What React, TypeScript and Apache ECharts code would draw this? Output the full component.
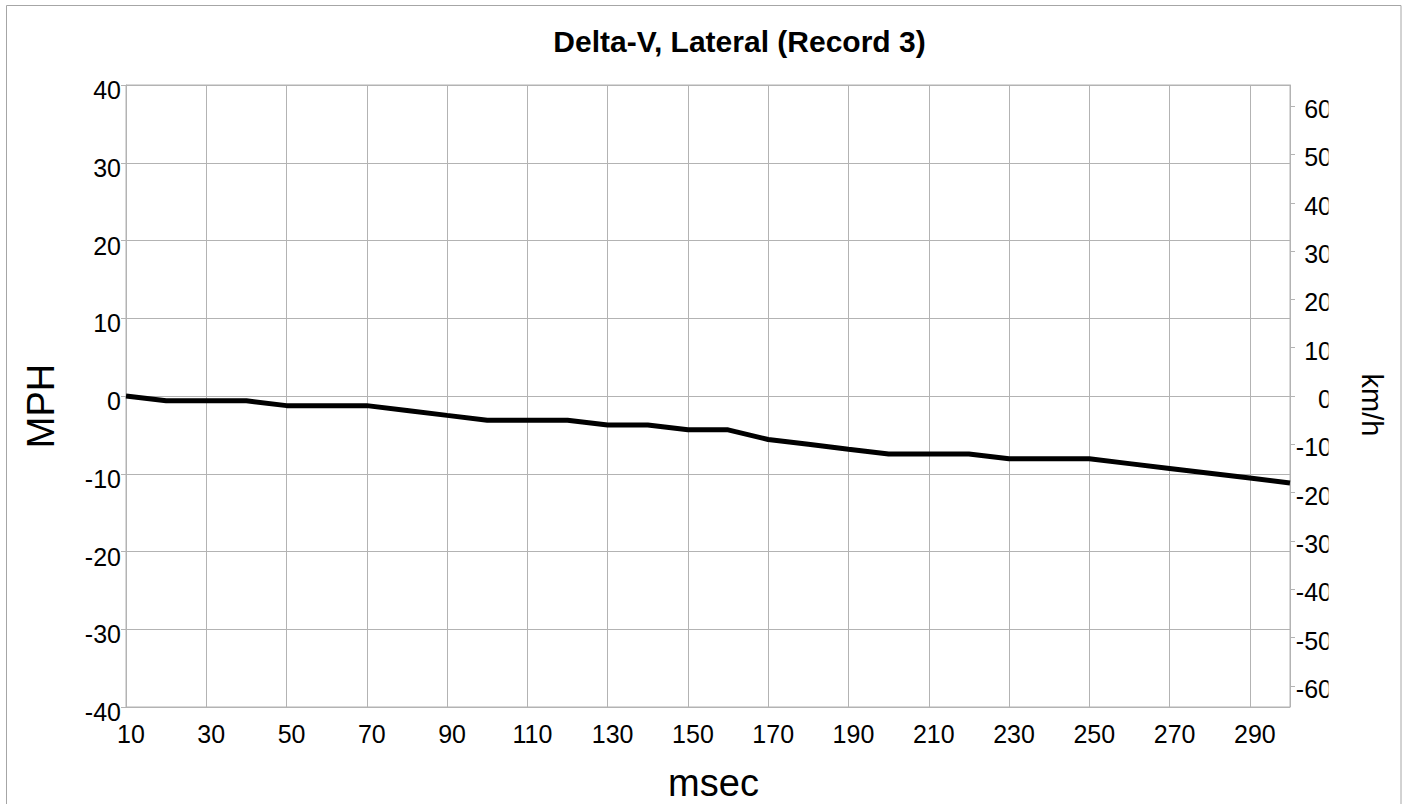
import React, { useEffect, useRef } from "react";
import * as echarts from "echarts";

const titleText = "Delta-V, Lateral (Record 3)";
const xName = "msec";
const leftName = "MPH";
const rightName = "km/h";

const msec = [10, 20, 30, 40, 50, 60, 70, 80, 90, 100, 110, 120, 130, 140, 150, 160, 170, 180, 190, 200, 210, 220, 230, 240, 250, 260, 270, 280, 290, 300];
const mph = [0, -0.62, -0.62, -0.62, -1.24, -1.24, -1.24, -1.86, -2.49, -3.11, -3.11, -3.11, -3.73, -3.73, -4.35, -4.35, -5.59, -6.21, -6.84, -7.46, -7.46, -7.46, -8.08, -8.08, -8.08, -8.7, -9.32, -9.94, -10.56, -11.18];

const xTicks = [10, 30, 50, 70, 90, 110, 130, 150, 170, 190, 210, 230, 250, 270, 290];
const mphTicks = [-40, -30, -20, -10, 0, 10, 20, 30, 40];
const kmhTicks = [-60, -50, -40, -30, -20, -10, 0, 10, 20, 30, 40, 50, 60];
const KMH_PER_MPH = 1.609344;

const FONT = '"Liberation Sans", Arial, sans-serif';
const GRID = "#b3b3b3";

export default function App() {
  const ref = useRef<HTMLDivElement>(null);
  useEffect(() => {
    if (!ref.current) return;
    const chart = echarts.init(ref.current, null, { renderer: "svg" });
    const mphMin = mphTicks[0];
    const mphMax = mphTicks[mphTicks.length - 1];
    const option = {
      animation: false,
      backgroundColor: "#ffffff",
      grid: {
        left: 126,
        right: 120,
        top: 85,
        bottom: 97,
        show: true,
        borderColor: GRID,
        borderWidth: 1,
        containLabel: false,
      },
      xAxis: {
        type: "value",
        min: msec[0],
        max: msec[msec.length - 1],
        interval: 20,
        axisLine: { show: true, lineStyle: { color: GRID, width: 1 } },
        axisTick: { show: true, length: 6, lineStyle: { color: GRID }, customValues: xTicks },
        axisLabel: {
          color: "#000",
          fontFamily: FONT,
          fontSize: 25,
          margin: 14,
          padding: [0, 0, 0, 10],
          customValues: xTicks,
        },
        splitLine: { show: true, lineStyle: { color: GRID, width: 1 } },
      },
      yAxis: [
        {
          type: "value",
          min: mphMin,
          max: mphMax,
          interval: 10,
          position: "left",
          axisLine: { show: true, lineStyle: { color: GRID, width: 1 } },
          axisTick: { show: true, length: 5, lineStyle: { color: GRID } },
          axisLabel: {
            color: "#000",
            fontFamily: FONT,
            fontSize: 25,
            margin: 5,
            verticalAlign: "top",
            lineHeight: 10,
          },
          splitLine: { show: true, lineStyle: { color: GRID, width: 1 } },
        },
        {
          type: "value",
          min: mphMin * KMH_PER_MPH,
          max: mphMax * KMH_PER_MPH,
          position: "right",
          axisLine: { show: true, lineStyle: { color: GRID, width: 1 } },
          axisTick: { show: true, length: 5, lineStyle: { color: GRID }, customValues: kmhTicks },
          axisLabel: {
            color: "#000",
            fontFamily: FONT,
            fontSize: 25,
            margin: 42,
            align: "right",
            verticalAlign: "top",
            lineHeight: 6,
            customValues: kmhTicks,
          },
          splitLine: { show: false },
        },
      ],
      series: [
        {
          type: "line",
          yAxisIndex: 0,
          data: msec.map((m, i) => [m, mph[i]]),
          showSymbol: false,
          symbol: "none",
          lineStyle: { color: "#000", width: 5 },
          z: 5,
        },
      ],
      graphic: [
        {
          type: "rect",
          z: 100,
          shape: { x: 1328.5, y: 80, width: 24, height: 650 },
          style: { fill: "#ffffff" },
        },
        {
          type: "rect",
          z: 101,
          shape: { x: 6.5, y: 5.5, width: 1394.5, height: 830 },
          style: { fill: "none", stroke: "#a6a6a6", lineWidth: 1 },
        },
        {
          type: "text",
          z: 101,
          x: 739.5,
          y: 41,
          style: {
            text: titleText,
            font: `bold 30px ${FONT}`,
            fill: "#000",
            align: "center",
            verticalAlign: "middle",
            textAlign: "center",
            textVerticalAlign: "middle",
          },
        },
        {
          type: "text",
          z: 101,
          x: 713.5,
          y: 783,
          style: {
            text: xName,
            font: `38px ${FONT}`,
            fill: "#000",
            align: "center",
            verticalAlign: "middle",
            textAlign: "center",
            textVerticalAlign: "middle",
          },
        },
        {
          type: "text",
          z: 101,
          x: 41,
          y: 406,
          rotation: Math.PI / 2,
          style: {
            text: leftName,
            font: `38px ${FONT}`,
            fill: "#000",
            align: "center",
            verticalAlign: "middle",
            textAlign: "center",
            textVerticalAlign: "middle",
          },
        },
        {
          type: "text",
          z: 101,
          x: 1372,
          y: 405,
          rotation: -Math.PI / 2,
          style: {
            text: rightName,
            font: `29px ${FONT}`,
            fill: "#000",
            align: "center",
            verticalAlign: "middle",
            textAlign: "center",
            textVerticalAlign: "middle",
          },
        },
      ],
    };
    chart.setOption(option as any);
    return () => chart.dispose();
  }, []);
  return (
    <div
      ref={ref}
      style={{ position: "fixed", left: 0, top: 0, width: 1410, height: 804, background: "#fff" }}
    />
  );
}
